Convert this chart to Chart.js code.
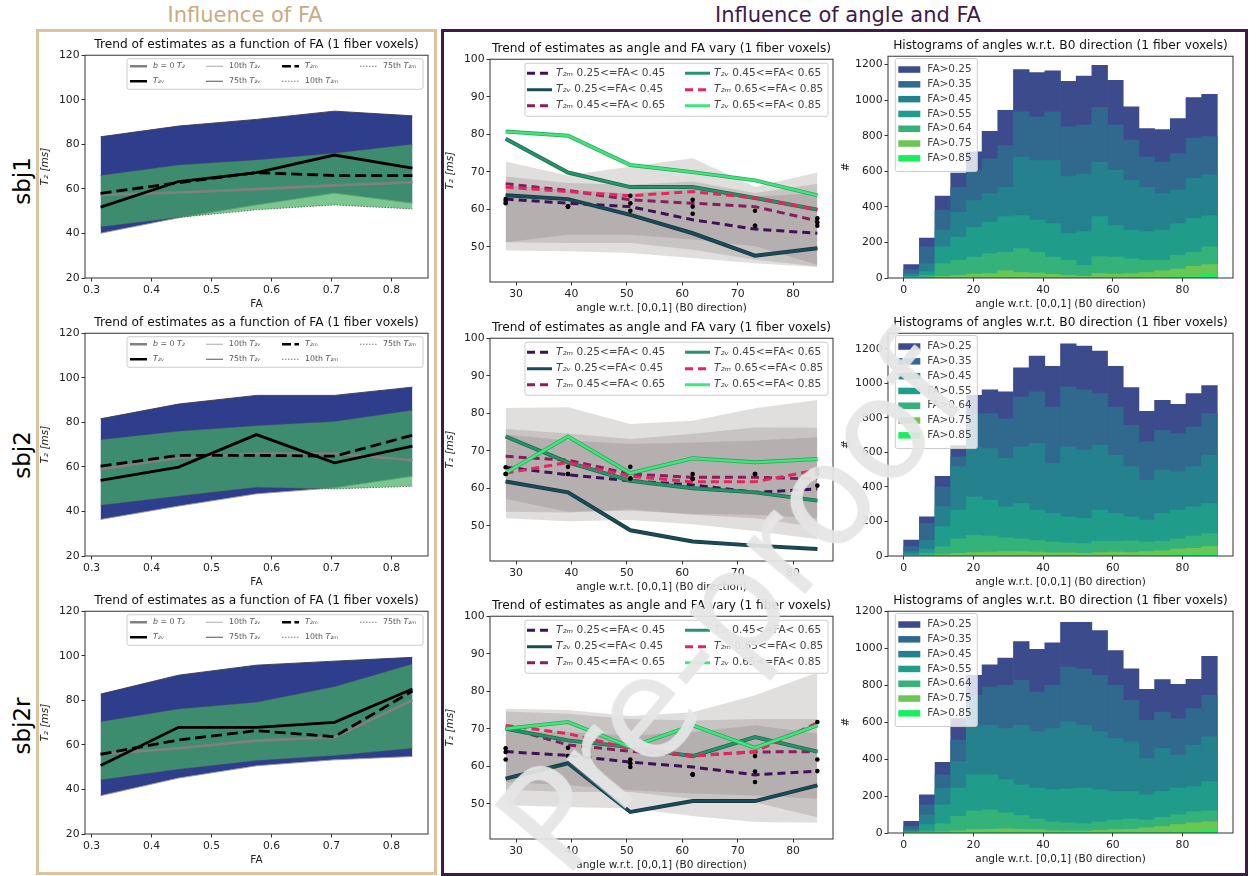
<!DOCTYPE html>
<html>
<head>
<meta charset="utf-8">
<title>T2 estimates vs FA and angle</title>
<script src="https://cdn.jsdelivr.net/npm/chart.js@4.4.1/dist/chart.umd.min.js"></script>
<style>
  html, body { margin: 0; padding: 0; background: #fff; }
  body { position: relative; width: 1256px; height: 876px; overflow: hidden; font-family: 'DejaVu Sans', sans-serif; }
  canvas { position: absolute; }
  .head { position: absolute; top: 3px; font-size: 21px; line-height: 24px; white-space: nowrap; transform: translateX(-50%); }
  .box { position: absolute; box-sizing: border-box; }
  .row { position: absolute; font-size: 23px; line-height: 26px; white-space: nowrap; transform: translate(-50%, -50%) rotate(-90deg); }
  .mark { position: absolute; left: 732px; top: 606px; font-size: 140px; color: #e6e6e6; opacity: 0.93; white-space: nowrap;
          transform: translate(-50%, -50%) rotate(-50deg); pointer-events: none; }
</style>
</head>
<body>
<div class="head" style="left:245px;color:#c9ab83">Influence of FA</div>
<div class="head" style="left:848px;color:#3d1a4d">Influence of angle and FA</div>
<div class="box" style="left:36px;top:29px;width:401px;height:846px;border:3px solid #dcc29f"></div>
<div class="box" style="left:441px;top:29px;width:807px;height:847px;border:3px solid #3d1a4b"></div>
<div class="row" style="left:22px;top:181px">sbj1</div>
<div class="row" style="left:22px;top:455px">sbj2</div>
<div class="row" style="left:22px;top:726px">sbj2r</div>

<script>
// ---- FA trend panels (left column) ----
const faX = [0.315, 0.445, 0.575, 0.705, 0.835];
const faTicks = [0.3, 0.4, 0.5, 0.6, 0.7, 0.8];
const t2Ticks = [20, 40, 60, 80, 100, 120];

const sbj1_b0    = [57.3, 58.4, 59.9, 61.6, 63.0];
const sbj1_t2v   = [51.8, 63.3, 67.3, 75.2, 69.3];
const sbj1_t2m   = [58.0, 62.8, 67.3, 66.0, 66.0];
const sbj1_t2v10 = [40.1, 47.0, 52.8, 58.1, 53.6];
const sbj1_t2v75 = [83.4, 88.2, 91.2, 94.9, 92.8];
const sbj1_t2m10 = [43.0, 47.2, 50.6, 52.8, 51.0];
const sbj1_t2m75 = [66.0, 70.7, 73.0, 76.0, 80.0];

const sbj2_b0    = [59.0, 64.0, 66.0, 66.0, 63.0];
const sbj2_t2v   = [54.0, 59.9, 74.5, 61.8, 69.3];
const sbj2_t2m   = [60.3, 65.2, 65.2, 64.8, 74.2];
const sbj2_t2v10 = [36.4, 42.4, 47.9, 50.6, 55.8];
const sbj2_t2v75 = [81.6, 88.2, 92.1, 92.1, 95.8];
const sbj2_t2m10 = [42.8, 46.9, 50.9, 50.1, 51.3];
const sbj2_t2m75 = [72.2, 76.0, 78.5, 80.4, 85.4];

const sbj2r_b0    = [55.8, 58.5, 61.9, 63.4, 80.1];
const sbj2r_t2v   = [50.7, 67.9, 67.9, 70.1, 85.1];
const sbj2r_t2m   = [55.8, 62.2, 66.4, 63.7, 84.2];
const sbj2r_t2v10 = [37.2, 45.1, 50.6, 53.3, 54.8];
const sbj2r_t2v75 = [82.8, 91.3, 95.8, 97.6, 99.3];
const sbj2r_t2m10 = [44.3, 49.1, 53.0, 55.2, 58.5];
const sbj2r_t2m75 = [70.4, 76.1, 79.1, 86.1, 96.3];

// ---- angle trend panels (middle column) ----
const angleX = [28.125, 39.375, 50.625, 61.875, 73.125, 84.375];
const angleTicks = [30, 40, 50, 60, 70, 80];
const angT2Ticks = [50, 60, 70, 80, 90, 100];
const groupNames = ['0.25<=FA< 0.45', '0.45<=FA< 0.65', '0.65<=FA< 0.85'];

const a1_m25 = [62.7, 61.6, 60.7, 57.2, 54.7, 53.6];
const a1_v25 = [63.7, 62.7, 58.5, 53.6, 47.6, 49.6];
const a1_m45 = [66.8, 65.0, 62.5, 61.6, 60.7, 56.9];
const a1_v45 = [78.8, 69.8, 65.9, 65.9, 63.0, 59.9];
const a1_m65 = [65.9, 64.7, 63.6, 64.7, 63.0, 59.9];
const a1_v65 = [80.7, 79.6, 71.8, 69.9, 67.7, 63.7];
const a1_bandHi = [[72.7, 69.0, 71.4, 73.6, 66.0, 69.8], [68.7, 67.0, 66.5, 67.4, 64.3, 66.8], [66.3, 65.2, 64.1, 65.6, 63.4, 64.3]];
const a1_bandLo = [[49.0, 48.8, 48.3, 47.0, 45.6, 44.6], [51.2, 53.2, 53.2, 51.9, 50.1, 45.2], [51.2, 51.0, 51.0, 49.2, 46.5, 44.8]];
const a1_dots = [[62.7, 60.7, 63.6, 62.5, 59.6, 57.6], [61.6, 60.7, 61.6, 60.7, 55.6, 56.5], [62.2, 60.7, 59.6, 58.8, 55.6, 55.6]];

const a2_m25 = [65.6, 63.6, 62.0, 60.9, 58.9, 59.8];
const a2_v25 = [61.8, 58.9, 48.8, 45.8, 44.7, 43.8];
const a2_m45 = [68.5, 67.5, 63.8, 62.9, 62.9, 62.5];
const a2_v45 = [73.8, 66.9, 62.0, 60.0, 58.9, 56.7];
const a2_m65 = [64.0, 66.9, 63.2, 61.7, 61.7, 64.9];
const a2_v65 = [64.1, 73.8, 64.0, 68.0, 66.9, 67.8];
const a2_bandHi = [[81.4, 81.6, 77.1, 78.0, 81.3, 83.5], [75.8, 74.6, 73.1, 74.5, 76.2, 76.1], [74.3, 72.7, 71.8, 72.2, 72.7, 73.6]];
const a2_bandLo = [[52.0, 51.2, 51.5, 50.4, 48.6, 46.4], [53.7, 53.5, 54.4, 52.9, 52.0, 49.6], [57.1, 53.7, 54.0, 53.1, 52.9, 52.0]];
const a2_dots = [[63.8, 65.7, 65.7, 63.8, 63.8, 64.9], [63.8, 63.8, 62.6, 62.5, 63.8, 63.8], [65.6, 63.8, 62.6, 62.5, 63.8, 60.7]];

const a3_m25 = [63.9, 62.9, 61.1, 59.8, 57.7, 58.7];
const a3_v25 = [56.7, 60.8, 47.8, 50.7, 50.7, 54.9];
const a3_m45 = [70.4, 65.7, 64.0, 62.9, 63.8, 63.9];
const a3_v45 = [70.0, 66.9, 65.1, 62.7, 67.8, 63.9];
const a3_m65 = [70.9, 68.7, 64.7, 62.7, 63.9, 71.6];
const a3_v65 = [70.0, 71.8, 65.1, 70.9, 64.9, 70.9];
const a3_bandHi = [[75.3, 75.0, 73.4, 74.4, 78.9, 85.0], [74.6, 74.0, 72.6, 72.2, 72.6, 72.6], [69.3, 69.1, 68.2, 69.1, 70.9, 68.7]];
const a3_bandLo = [[49.6, 49.1, 48.7, 46.7, 45.1, 44.9], [53.7, 53.1, 53.1, 51.3, 50.4, 46.4], [55.8, 54.9, 53.6, 52.7, 52.2, 51.3]];
const a3_dots = [[64.8, 64.9, 61.8, 57.8, 62.7, 71.8], [63.8, 62.7, 60.8, 57.8, 58.6, 61.8], [61.8, 62.7, 59.8, 57.8, 55.8, 58.7]];

// ---- angle histograms (right column) ----
const binCenters = [2.25, 6.75, 11.25, 15.75, 20.25, 24.75, 29.25, 33.75, 38.25, 42.75,
                    47.25, 51.75, 56.25, 60.75, 65.25, 69.75, 74.25, 78.75, 83.25, 87.75];
const histTicksX = [0, 20, 40, 60, 80];
const histTicksY = [0, 200, 400, 600, 800, 1000, 1200];
const faLabels = ['FA>0.25', 'FA>0.35', 'FA>0.45', 'FA>0.55', 'FA>0.64', 'FA>0.75', 'FA>0.85'];

const hist_sbj1 = [
  [75, 225, 460, 590, 710, 825, 943, 1172, 1155, 1165, 1106, 1136, 1196, 1112, 962, 840, 835, 896, 1015, 1033],
  [47, 175, 380, 510, 605, 670, 745, 935, 905, 935, 850, 860, 960, 860, 775, 680, 650, 700, 785, 795],
  [25, 80, 270, 370, 435, 475, 510, 680, 660, 660, 570, 585, 650, 605, 550, 510, 475, 495, 560, 580],
  [11, 35, 175, 230, 285, 315, 345, 350, 325, 305, 250, 260, 345, 295, 270, 260, 270, 305, 335, 350],
  [5, 15, 80, 100, 118, 137, 145, 165, 145, 118, 100, 70, 120, 118, 108, 100, 100, 128, 145, 175],
  [1, 3, 10, 15, 22, 25, 40, 30, 28, 20, 15, 10, 25, 22, 25, 30, 40, 50, 65, 75],
  [0, 0, 0, 1, 2, 2, 3, 3, 2, 2, 1, 1, 2, 2, 3, 5, 5, 8, 15, 20]
];
const hist_sbj2 = [
  [92, 227, 462, 640, 930, 963, 950, 1089, 1158, 1098, 1229, 1216, 1187, 1098, 975, 838, 902, 879, 940, 987],
  [54, 189, 400, 575, 825, 825, 795, 921, 950, 863, 979, 963, 940, 863, 757, 661, 728, 709, 748, 825],
  [25, 92, 285, 516, 632, 622, 565, 632, 651, 535, 632, 613, 642, 584, 516, 439, 497, 487, 516, 584],
  [12, 39, 170, 266, 343, 324, 285, 304, 266, 247, 227, 218, 266, 247, 227, 208, 247, 266, 285, 304],
  [4, 15, 55, 100, 120, 115, 105, 100, 90, 80, 75, 72, 85, 85, 88, 80, 85, 100, 115, 130],
  [1, 3, 8, 15, 20, 22, 25, 25, 22, 18, 18, 15, 20, 22, 20, 25, 30, 40, 45, 55],
  [0, 0, 0, 1, 2, 2, 2, 3, 2, 2, 2, 2, 2, 3, 3, 5, 5, 8, 10, 10]
];
const hist_sbj2r = [
  [63, 207, 383, 620, 854, 912, 948, 1038, 995, 1031, 1142, 1142, 1097, 989, 890, 779, 831, 806, 833, 957],
  [36, 153, 315, 504, 746, 791, 800, 827, 764, 800, 899, 890, 854, 800, 719, 611, 656, 620, 674, 746],
  [18, 99, 243, 387, 575, 584, 566, 584, 548, 566, 602, 584, 548, 512, 494, 404, 458, 422, 476, 521],
  [9, 45, 153, 243, 315, 315, 288, 261, 243, 234, 239, 243, 234, 225, 225, 207, 225, 243, 252, 279],
  [3, 12, 50, 90, 120, 125, 110, 95, 75, 60, 55, 50, 60, 70, 75, 70, 85, 100, 115, 120],
  [1, 2, 6, 12, 18, 20, 22, 20, 18, 12, 10, 10, 14, 18, 20, 28, 35, 45, 55, 60],
  [0, 0, 0, 1, 2, 2, 3, 3, 3, 2, 2, 2, 3, 4, 5, 6, 8, 10, 12, 15]
];
const histYMax = [1247, 1290, 1202];

// ---------------------------------------------------------------
const FONT = "'DejaVu Sans', sans-serif";
Chart.defaults.font.family = FONT;
Chart.defaults.color = '#222';
Chart.defaults.animation = false;
Chart.defaults.elements.point.radius = 0;
Chart.defaults.elements.line.tension = 0;
Chart.defaults.plugins.legend.display = false;
Chart.defaults.plugins.tooltip.enabled = false;

const TH = 24, XH = 35, RP = 4;
const BLUE = '#2f3e8c', GREEN = 'rgba(69,174,98,0.7)', GRAY_BAND = 'rgba(105,92,92,0.2)';
const HIST_COLORS = ['#3b4b8c', '#31688e', '#26818e', '#1f9d8a', '#35b27a', '#6cc653', '#1aee5e'];
const LINE_COLORS = { m25: '#3f1158', v25: '#1b4b57', m45: '#8a1d5e', v45: '#26946a', m65: '#e8245e', v65: '#3fe67d' };
const EDGE_COLORS = { v25: '#143a44', v45: '#1b6e4e', v65: '#2aa85a' };

// matplotlib-like frame on all four sides
const frame = {
  id: 'frame',
  afterDatasetsDraw(chart) {
    const { ctx, chartArea: a } = chart;
    ctx.save();
    ctx.strokeStyle = '#333';
    ctx.lineWidth = 1;
    ctx.strokeRect(a.left, a.top, a.right - a.left, a.bottom - a.top);
    ctx.restore();
  }
};

// legend box drawn inside the plot area (config is kept on the canvas)
const boxLegend = {
  id: 'boxLegend',
  afterDraw(chart) {
    const o = chart.canvas.legendCfg;
    if (!o) return;
    const { ctx, chartArea: a } = chart;
    const x0 = o.side === 'right' ? a.right - o.dx - o.w : a.left + o.dx;
    const y0 = a.top + o.dy;
    ctx.save();
    ctx.fillStyle = 'rgba(255,255,255,0.8)';
    ctx.strokeStyle = '#cccccc';
    ctx.lineWidth = 1;
    ctx.beginPath();
    ctx.roundRect(x0, y0, o.w, o.h, 2);
    ctx.fill();
    ctx.stroke();
    o.items.forEach((it, i) => {
      const col = Math.floor(i / o.rows.length), row = i % o.rows.length;
      const hx = x0 + o.cols[col], hy = y0 + o.rows[row];
      if (it.patch) {
        ctx.fillStyle = it.patch;
        ctx.fillRect(hx, hy - o.patchH / 2, o.handleLen, o.patchH);
      } else {
        ctx.beginPath();
        ctx.setLineDash(it.dash || []);
        ctx.strokeStyle = it.color;
        ctx.lineWidth = it.lw;
        ctx.moveTo(hx, hy);
        ctx.lineTo(hx + o.handleLen, hy);
        ctx.stroke();
        ctx.setLineDash([]);
      }
      let tx = hx + o.textDx;
      ctx.fillStyle = o.textColor || '#333';
      ctx.textBaseline = 'middle';
      it.label.forEach(([t, italic]) => {
        ctx.font = (italic ? 'italic ' : '') + o.font + 'px ' + FONT;
        ctx.fillText(t, tx, hy);
        tx += ctx.measureText(t).width;
      });
    });
    ctx.restore();
  }
};

function makeCanvas(rect, yw) {
  const c = document.createElement('canvas');
  const w = Math.round(rect.R - rect.L + yw + RP);
  const h = Math.round(rect.B - rect.T + TH + XH);
  c.width = w; c.height = h;
  c.style.width = w + 'px'; c.style.height = h + 'px';
  c.style.left = Math.round(rect.L - yw) + 'px';
  c.style.top = Math.round(rect.T - TH) + 'px';
  document.body.appendChild(c);
  return c;
}

function axis(min, max, ticks, fmt, title, italic, size) {
  return {
    type: 'linear', min, max, offset: false,
    afterBuildTicks: s => { s.ticks = ticks.map(v => ({ value: v })); },
    ticks: { callback: fmt, font: { size: 10.8 }, color: '#222', padding: 2, maxRotation: 0, autoSkip: false },
    grid: { display: true, drawOnChartArea: false, drawTicks: true, tickLength: 3.5, color: '#333', offset: false },
    border: { display: false },
    title: { display: true, text: title, color: '#222', font: { size: 10.5, style: italic ? 'italic' : 'normal' }, padding: { top: 2, bottom: 2 } },
    afterFit: s => { if (s.isHorizontal()) s.height = XH; else s.width = size; }
  };
}

function titleOpt(text) {
  return { display: true, text, fullSize: false, color: '#111',
           font: { size: 12.2, weight: 'normal', lineHeight: 1.2 }, padding: { top: 6.8, bottom: 2.8 } };
}

const pts = (xs, ys) => xs.map((x, i) => ({ x, y: ys[i] }));

function faPanel(rect, d) {
  const c = makeCanvas(rect, 48);
  c.legendCfg = {
    side: 'right', dx: 5, dy: 3.5, w: 296, h: 30.5, font: 7.8, textColor: '#555',
    cols: [3, 79, 155, 233], rows: [7.5, 22.5], handleLen: 17, textDx: 23,
    items: [
      { label: [['b', 1], [' = 0 ', 0], ['T₂', 1]], color: '#808080', lw: 2.5 },
      { label: [['T₂ᵥ', 1]], color: '#000', lw: 2.5 },
      { label: [['10th ', 0], ['T₂ᵥ', 1]], color: '#aaa', lw: 1 },
      { label: [['75th ', 0], ['T₂ᵥ', 1]], color: '#555', lw: 1 },
      { label: [['T₂ₘ', 1]], color: '#000', lw: 2.5, dash: [9, 3.5] },
      { label: [['10th ', 0], ['T₂ₘ', 1]], color: '#555', lw: 0.8, dash: [1.5, 1.5] },
      { label: [['75th ', 0], ['T₂ₘ', 1]], color: '#555', lw: 0.8, dash: [1.5, 1.5] }
    ]
  };
  new Chart(c, {
    type: 'line',
    data: { datasets: [
      { data: pts(faX, d.t2v75), borderColor: '#3a3a50', borderWidth: 0.9, backgroundColor: BLUE, fill: '+1', order: 6 },
      { data: pts(faX, d.t2v10), borderColor: '#999', borderWidth: 0.9, fill: false, order: 5 },
      { data: pts(faX, d.t2m75), borderColor: '#555', borderWidth: 0.8, borderDash: [1.5, 1.5], backgroundColor: GREEN, fill: '+1', order: 4 },
      { data: pts(faX, d.t2m10), borderColor: '#555', borderWidth: 0.8, borderDash: [1.5, 1.5], fill: false, order: 3 },
      { data: pts(faX, d.b0), borderColor: '#808080', borderWidth: 2.6, fill: false, order: 2 },
      { data: pts(faX, d.t2m), borderColor: '#000', borderWidth: 2.8, borderDash: [11, 5], fill: false, order: 1 },
      { data: pts(faX, d.t2v), borderColor: '#000', borderWidth: 2.8, fill: false, order: 0 }
    ] },
    options: {
      responsive: false,
      layout: { padding: { left: 0, right: RP, top: 0, bottom: 0 } },
      plugins: { title: titleOpt('Trend of estimates as a function of FA (1 fiber voxels)') },
      scales: {
        x: axis(0.289, 0.861, faTicks, v => v.toFixed(1), 'FA', false, 48),
        y: axis(20, 120, t2Ticks, v => String(v), 'T₂ [ms]', true, 48)
      }
    },
    plugins: [frame, boxLegend]
  });
}

function anglePanel(rect, d) {
  const c = makeCanvas(rect, 48);
  const C = LINE_COLORS, E = EDGE_COLORS;
  const ital = t => [[t, 1]];
  c.legendCfg = {
    side: 'left', dx: 35, dy: 4, w: 303, h: 53, font: 10.5, textColor: '#444',
    cols: [2, 160], rows: [10, 26.5, 42.5], handleLen: 25, textDx: 29,
    items: [
      { label: [...ital('T₂ₘ'), [' ' + groupNames[0], 0]], color: C.m25, lw: 3, dash: [8, 5] },
      { label: [...ital('T₂ᵥ'), [' ' + groupNames[0], 0]], color: C.v25, lw: 3 },
      { label: [...ital('T₂ₘ'), [' ' + groupNames[1], 0]], color: C.m45, lw: 3, dash: [8, 5] },
      { label: [...ital('T₂ᵥ'), [' ' + groupNames[1], 0]], color: C.v45, lw: 3 },
      { label: [...ital('T₂ₘ'), [' ' + groupNames[2], 0]], color: C.m65, lw: 3, dash: [8, 5] },
      { label: [...ital('T₂ᵥ'), [' ' + groupNames[2], 0]], color: C.v65, lw: 3 }
    ]
  };
  const bands = [];
  d.bandHi.forEach((hi, k) => {
    bands.push({ data: pts(angleX, hi), borderWidth: 0, backgroundColor: GRAY_BAND, fill: '+1', order: 30 - 2 * k });
    bands.push({ data: pts(angleX, d.bandLo[k]), borderWidth: 0, fill: false, order: 29 - 2 * k });
  });
  const dots = d.dots.flatMap(ys => pts(angleX, ys));
  // T2v lines get a thin darker edge (drawn as a wider line underneath)
  const vLine = (ys, key, ord) => [
    { data: pts(angleX, ys), borderColor: E[key], borderWidth: 4, fill: false, order: ord + 0.5 },
    { data: pts(angleX, ys), borderColor: C[key], borderWidth: 2.4, fill: false, order: ord }
  ];
  new Chart(c, {
    type: 'line',
    data: { datasets: [
      ...bands,
      { data: pts(angleX, d.m25), borderColor: C.m25, borderWidth: 3, borderDash: [8, 5], fill: false, order: 6 },
      ...vLine(d.v25, 'v25', 5),
      { data: pts(angleX, d.m45), borderColor: C.m45, borderWidth: 3, borderDash: [8, 5], fill: false, order: 4 },
      ...vLine(d.v45, 'v45', 3),
      { data: pts(angleX, d.m65), borderColor: C.m65, borderWidth: 3, borderDash: [8, 5], fill: false, order: 2 },
      ...vLine(d.v65, 'v65', 1),
      { data: dots, showLine: false, pointRadius: 2.3, pointBackgroundColor: '#000', pointBorderWidth: 0, order: 0 }
    ] },
    options: {
      responsive: false,
      layout: { padding: { left: 0, right: RP, top: 0, bottom: 0 } },
      plugins: { title: titleOpt('Trend of estimates as angle and FA vary (1 fiber voxels)') },
      scales: {
        x: axis(25.3, 87.2, angleTicks, v => String(v), 'angle w.r.t. [0,0,1] (B0 direction)', false, 48),
        y: axis(40.6, 100, angT2Ticks, v => String(v), 'T₂ [ms]', true, 48)
      }
    },
    plugins: [frame, boxLegend]
  });
}

function histPanel(rect, hist, ymax) {
  const c = makeCanvas(rect, 50);
  c.legendCfg = {
    side: 'left', dx: 7.3, dy: 2.3, w: 82, h: 113, font: 10.5, textColor: '#444',
    cols: [3], rows: [11, 25.8, 40.6, 55.4, 70.2, 85, 99.8], handleLen: 22, textDx: 29, patchH: 6.5,
    items: faLabels.map((t, i) => ({ label: [[t, 0]], patch: HIST_COLORS[i] }))
  };
  new Chart(c, {
    type: 'bar',
    data: { datasets: hist.map((h, i) => ({
      label: faLabels[i],
      data: pts(binCenters, h),
      backgroundColor: HIST_COLORS[i],
      borderWidth: 0,
      barPercentage: 1, categoryPercentage: 1, grouped: false,
      order: hist.length - i
    })) },
    options: {
      responsive: false,
      layout: { padding: { left: 0, right: RP, top: 0, bottom: 0 } },
      plugins: { title: titleOpt('Histograms of angles w.r.t. B0 direction (1 fiber voxels)') },
      scales: {
        x: axis(-4.5, 94.5, histTicksX, v => String(v), 'angle w.r.t. [0,0,1] (B0 direction)', false, 50),
        y: axis(0, ymax, histTicksY, v => String(v), '#', false, 50)
      }
    },
    plugins: [frame, boxLegend]
  });
}

// plot-area rectangles in page pixels
const leftRects  = [{ L: 85, R: 428, T: 55, B: 278 }, { L: 85, R: 428, T: 333.3, B: 556.7 }, { L: 85, R: 428, T: 611, B: 834.3 }];
const midRects   = [{ L: 490, R: 833, T: 59.3, B: 282.3 }, { L: 490, R: 833, T: 337.7, B: 560.5 }, { L: 490, R: 833, T: 615.7, B: 838.5 }];
const rightRects = [{ L: 888, R: 1233.3, T: 56, B: 277.7 }, { L: 888, R: 1233.3, T: 332.7, B: 556 }, { L: 888, R: 1233.3, T: 611, B: 833.3 }];

faPanel(leftRects[0], { b0: sbj1_b0, t2v: sbj1_t2v, t2m: sbj1_t2m, t2v10: sbj1_t2v10, t2v75: sbj1_t2v75, t2m10: sbj1_t2m10, t2m75: sbj1_t2m75 });
faPanel(leftRects[1], { b0: sbj2_b0, t2v: sbj2_t2v, t2m: sbj2_t2m, t2v10: sbj2_t2v10, t2v75: sbj2_t2v75, t2m10: sbj2_t2m10, t2m75: sbj2_t2m75 });
faPanel(leftRects[2], { b0: sbj2r_b0, t2v: sbj2r_t2v, t2m: sbj2r_t2m, t2v10: sbj2r_t2v10, t2v75: sbj2r_t2v75, t2m10: sbj2r_t2m10, t2m75: sbj2r_t2m75 });

anglePanel(midRects[0], { m25: a1_m25, v25: a1_v25, m45: a1_m45, v45: a1_v45, m65: a1_m65, v65: a1_v65, bandHi: a1_bandHi, bandLo: a1_bandLo, dots: a1_dots });
anglePanel(midRects[1], { m25: a2_m25, v25: a2_v25, m45: a2_m45, v45: a2_v45, m65: a2_m65, v65: a2_v65, bandHi: a2_bandHi, bandLo: a2_bandLo, dots: a2_dots });
anglePanel(midRects[2], { m25: a3_m25, v25: a3_v25, m45: a3_m45, v45: a3_v45, m65: a3_m65, v65: a3_v65, bandHi: a3_bandHi, bandLo: a3_bandLo, dots: a3_dots });

histPanel(rightRects[0], hist_sbj1, histYMax[0]);
histPanel(rightRects[1], hist_sbj2, histYMax[1]);
histPanel(rightRects[2], hist_sbj2r, histYMax[2]);
</script>
<div class="mark">Pre-proof</div>
</body>
</html>
